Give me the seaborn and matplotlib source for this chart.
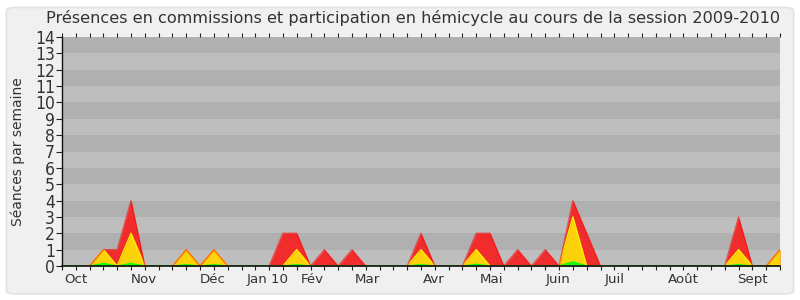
import numpy as np
import pandas as pd
import seaborn as sns
import matplotlib
matplotlib.use("Agg")
import matplotlib.pyplot as plt
from matplotlib.patches import FancyBboxPatch

# ---- data (weekly values, session 2009-2010) ----
weeks = list(range(53))
red = [0, 0, 0, 1, 1, 4, 0, 0, 0, 1, 0, 1, 0, 0, 0, 0, 2, 2, 0, 1,
       0, 1, 0, 0, 0, 0, 2, 0, 0, 0, 2, 2, 0, 1, 0, 1, 0, 4, 2, 0,
       0, 0, 0, 0, 0, 0, 0, 0, 0, 3, 0, 0, 1]
yellow = [0, 0, 0, 1, 0, 2, 0, 0, 0, 1, 0, 1, 0, 0, 0, 0, 0, 1, 0, 0,
          0, 0, 0, 0, 0, 0, 1, 0, 0, 0, 1, 0, 0, 0, 0, 0, 0, 3, 0, 0,
          0, 0, 0, 0, 0, 0, 0, 0, 0, 1, 0, 0, 1]
green = [0, 0, 0, 0.15, 0, 0.15, 0, 0, 0, 0.08, 0, 0.08, 0, 0, 0, 0, 0, 0.08, 0, 0,
         0, 0, 0, 0, 0, 0, 0.08, 0, 0, 0, 0.1, 0, 0, 0, 0, 0, 0, 0.25, 0, 0,
         0, 0, 0, 0, 0, 0, 0, 0, 0, 0.08, 0, 0, 0]
month_labels = ["Oct", "Nov", "Déc", "Jan 10", "Fév", "Mar", "Avr", "Mai",
                "Juin", "Juil", "Août", "Sept"]
month_pos = [1.0, 5.9, 10.9, 14.9, 18.1, 22.1, 26.9, 31.1, 35.9, 40.0, 45.0, 50.0]
yticks = list(range(15))

df = pd.DataFrame({"week": weeks, "red": red, "yellow": yellow, "green": green})

sns.set_style("white")
plt.rcParams["font.family"] = ["DejaVu Sans"]

fig = plt.figure(figsize=(8, 3), dpi=100)
fig.patch.set_facecolor("white")
frame = FancyBboxPatch((0.008, 0.02), 0.984, 0.955, boxstyle="round,pad=0,rounding_size=0.012",
                       transform=fig.transFigure, facecolor="#f0f0f0", edgecolor="#e2e2e2",
                       linewidth=1.2, zorder=-10)
fig.patches.append(frame)

ax = fig.add_axes([0.0775, 0.1133, 0.8975, 0.7634])
ax.set_facecolor("#bebebe")
for k in range(1, 14, 2):
    ax.axhspan(k, k + 1, color="#b0b0b0", lw=0, zorder=0)

ax.fill_between(df["week"], df["red"], color="#f02c2c", lw=0, zorder=2)
ax.fill_between(df["week"], df["yellow"], color="#fcd20a", lw=0, zorder=4)
sns.lineplot(data=df, x="week", y="yellow", ax=ax, color="#ffee00", lw=1.0, zorder=5)
sns.lineplot(data=df, x="week", y="red", ax=ax, color="#ff0000", lw=1.0, alpha=0.55, zorder=5.5)
ax.fill_between(df["week"], df["green"], color="#22ee22", lw=0, zorder=6)
sns.lineplot(data=df, x="week", y="green", ax=ax, color="#00ff00", lw=1.0, zorder=7)

ax.set_xlim(0, 52)
ax.set_ylim(0, 14)
ax.set_yticks(yticks)
ax.set_yticklabels([str(v) for v in yticks],
                   fontdict={"family": ["DejaVu Sans"], "stretch": "condensed", "size": 12.5},
                   color="#333333")
ax.set_xticks(weeks)
ax.set_xticklabels([])
ax.tick_params(axis="x", which="major", bottom=True, top=True, length=3, width=0.8,
               color="#222222", direction="out")
ax.tick_params(axis="y", which="major", left=True, length=4, width=0.8, color="#222222",
               pad=1, direction="out")
for lab, pos in zip(month_labels, month_pos):
    ax.text(pos, -0.45, lab, ha="center", va="top", fontsize=9.6, color="#333333",
            transform=ax.transData, clip_on=False)

for s in ["top", "right"]:
    ax.spines[s].set_visible(False)
ax.spines["left"].set_color("#111111")
ax.spines["bottom"].set_color("#111111")
ax.spines["left"].set_linewidth(1.0)
ax.spines["bottom"].set_linewidth(1.2)
ax.spines["bottom"].set_zorder(10)
ax.set_xlabel("")
ax.set_ylabel("Séances par semaine", fontsize=10, color="#333333")
ax.yaxis.set_label_coords(-0.0515, 0.5)

fig.text(0.516, 0.94, "Présences en commissions et participation en hémicycle au cours de la session 2009-2010",
         ha="center", va="center", fontsize=11.6, color="#333333")

fig.savefig("out.png", dpi=100, facecolor=fig.get_facecolor())
